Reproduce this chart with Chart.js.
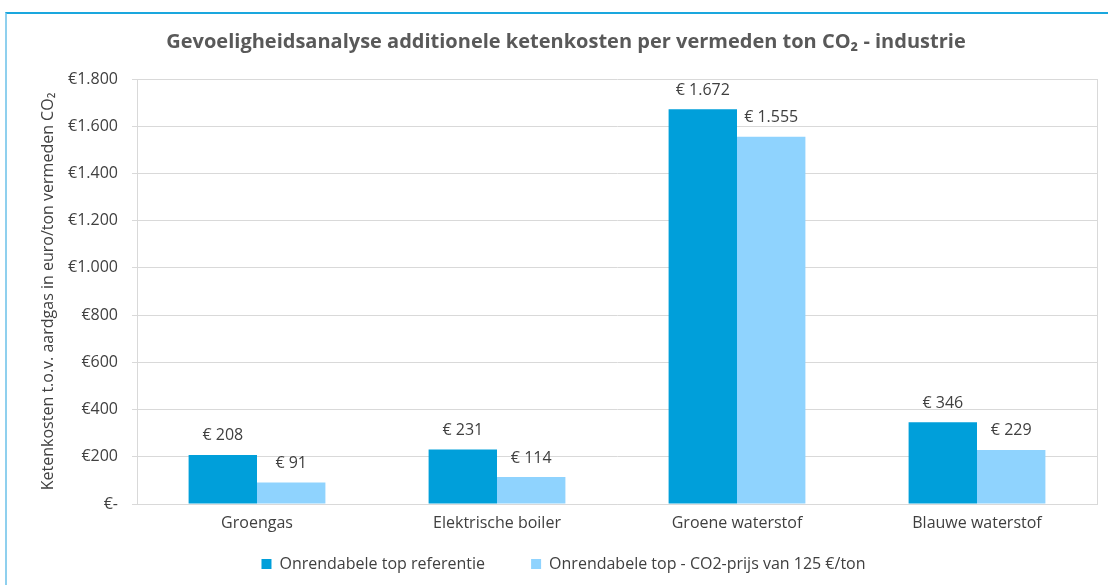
<!DOCTYPE html>
<html>
<head>
<meta charset="utf-8">
<script src="https://cdn.jsdelivr.net/npm/chart.js@4.4.1/dist/chart.umd.min.js"></script>
<style>
  html, body { margin: 0; padding: 0; background: #fff; }
  #wrap { position: relative; width: 1108px; height: 585px; overflow: hidden; }
  #frame { position: absolute; left: 5px; top: 12px; width: 1110px; height: 600px;
           border-top: 2px solid #1aa7de; border-left: 2px solid #8fd0ee; box-sizing: border-box; }
  canvas { position: absolute; left: 0; top: 0; }
</style>
</head>
<body>
<div id="wrap">
  <div id="frame"></div>
  <canvas id="c" width="1108" height="585"></canvas>
</div>
<script>
const titleText = "Gevoeligheidsanalyse additionele ketenkosten per vermeden ton CO\u2082 - industrie";
const yAxisTitle = "Ketenkosten t.o.v. aardgas in euro/ton vermeden CO\u2082";
const categories = ["Groengas", "Elektrische boiler", "Groene waterstof", "Blauwe waterstof"];
const seriesNames = ["Onrendabele top referentie", "Onrendabele top - CO2-prijs van 125 \u20ac/ton"];
const referentie = [208, 231, 1672, 346];
const co2prijs = [91, 114, 1555, 229];
const yTicks = [0, 200, 400, 600, 800, 1000, 1200, 1400, 1600, 1800];
const seriesColors = ["#009fda", "#8fd3fe"];

const FONT = "'Open Sans', 'DejaVu Sans', sans-serif";
const TXT = "#404040";
const FS = 16;

function fmtTick(v) {
  if (v === 0) return "\u20ac-";
  return "\u20ac" + v.toLocaleString("de-DE");
}
function fmtLabel(v) {
  return "\u20ac " + v.toLocaleString("de-DE");
}

const titlePlugin = {
  id: "customTitle",
  afterDraw(chart) {
    const ctx = chart.ctx;
    ctx.save();
    ctx.font = "bold 20px " + FONT;
    ctx.fillStyle = "#595959";
    ctx.textAlign = "center";
    ctx.textBaseline = "middle";
    ctx.fillText(titleText, 566, 42);
    ctx.restore();
  }
};

const framePlugin = {
  id: "plotFrame",
  afterDraw(chart) {
    const a = chart.chartArea, ctx = chart.ctx;
    ctx.save();
    ctx.strokeStyle = "#d9d9d9";
    ctx.lineWidth = 1;
    ctx.beginPath();
    ctx.moveTo(a.right + 0.5, a.top);
    ctx.lineTo(a.right + 0.5, a.bottom);
    ctx.stroke();
    ctx.restore();
  }
};

const labelPlugin = {
  id: "valueLabels",
  afterDatasetsDraw(chart) {
    const ctx = chart.ctx;
    ctx.save();
    ctx.font = FS + "px " + FONT;
    ctx.fillStyle = TXT;
    ctx.textAlign = "center";
    ctx.textBaseline = "middle";
    chart.data.datasets.forEach((ds, i) => {
      const meta = chart.getDatasetMeta(i);
      meta.data.forEach((bar, j) => {
        ctx.fillText(fmtLabel(ds.data[j]), bar.x, bar.y - 19);
      });
    });
    ctx.restore();
  }
};

new Chart(document.getElementById("c"), {
  type: "bar",
  data: {
    labels: categories,
    datasets: [
      { label: seriesNames[0], data: referentie, backgroundColor: seriesColors[0],
        categoryPercentage: 0.57, barPercentage: 1.0 },
      { label: seriesNames[1], data: co2prijs, backgroundColor: seriesColors[1],
        categoryPercentage: 0.57, barPercentage: 1.0 }
    ]
  },
  options: {
    responsive: false,
    animation: false,
    devicePixelRatio: 1,
    layout: { padding: { left: 30, right: 11, top: 79, bottom: 3 } },
    plugins: {
      title: { display: false },
      tooltip: { enabled: false },
      legend: {
        position: "bottom",
        labels: {
          boxWidth: 10, boxHeight: 10, padding: 10,
          color: TXT, font: { family: FONT, size: FS },
          generateLabels(chart) {
            const items = Chart.defaults.plugins.legend.labels.generateLabels(chart);
            items.forEach((it, i) => {
              it.lineWidth = 0;
              if (i === 0) it.text = it.text + "\u2003\u2003 ";
            });
            return items;
          }
        }
      }
    },
    scales: {
      x: {
        afterFit(scale) { scale.height = 42; },
        grid: { display: false, drawTicks: false },
        border: { display: true, color: "#d9d9d9" },
        ticks: { color: TXT, font: { family: FONT, size: FS }, padding: 10 }
      },
      y: {
        min: 0, max: 1800,
        afterBuildTicks(scale) { scale.ticks = yTicks.map(v => ({ value: v })); },
        afterFit(scale) { scale.width = 107; },
        grid: { color: "#d9d9d9", tickLength: 5, drawTicks: true },
        border: { display: true, color: "#d9d9d9" },
        ticks: { color: TXT, font: { family: FONT, size: FS }, padding: 14,
                 callback: (v) => fmtTick(v) },
        title: { display: true, text: yAxisTitle, color: TXT,
                 font: { family: FONT, size: FS }, padding: { top: 9, bottom: 0 } }
      }
    }
  },
  plugins: [titlePlugin, framePlugin, labelPlugin]
});
</script>
</body>
</html>
